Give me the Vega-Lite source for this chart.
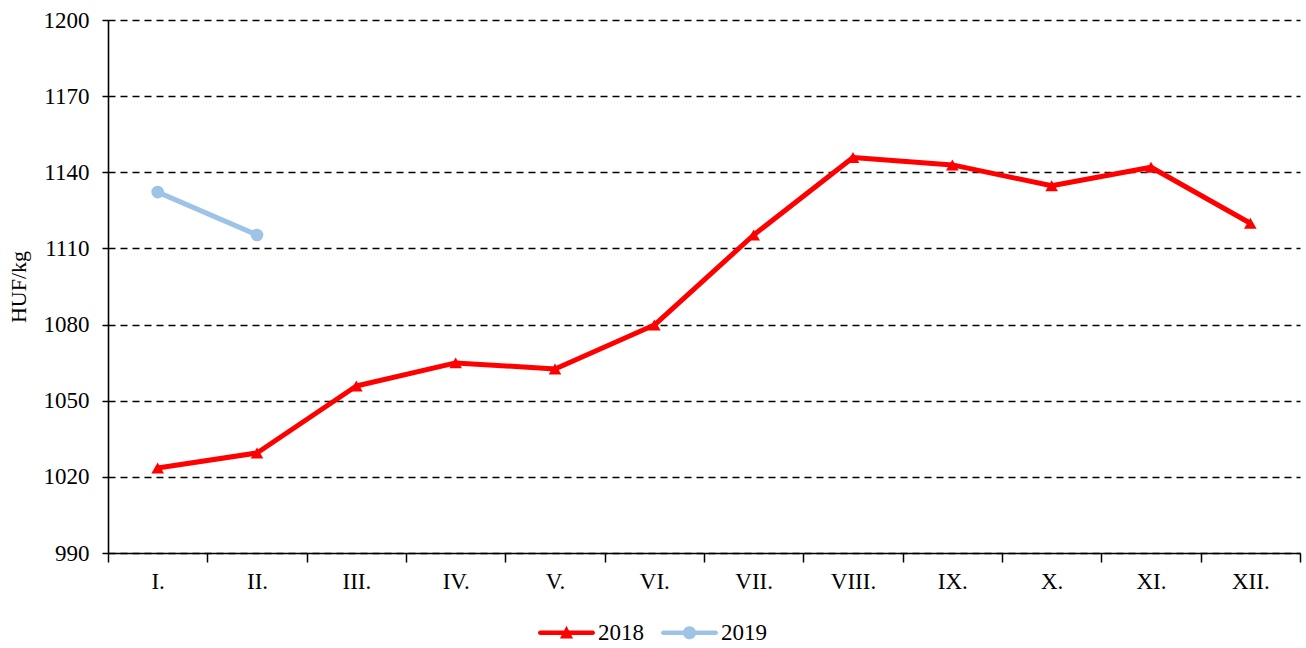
{
  "$schema": "https://vega.github.io/schema/vega-lite/v6.json",
  "width": 1192,
  "height": 533,
  "autosize": {"type": "none"},
  "padding": {"left": 108, "top": 20, "right": 6, "bottom": 95},
  "background": "white",
  "config": {
    "font": "Liberation Serif",
    "view": {"stroke": null},
    "axis": {
      "domainColor": "black",
      "domainWidth": 1.6,
      "tickColor": "black",
      "tickWidth": 1.5,
      "labelFont": "Liberation Serif",
      "labelFontSize": 23,
      "labelColor": "black",
      "titleFont": "Liberation Serif",
      "titleFontSize": 22,
      "titleFontWeight": "normal",
      "titleColor": "black"
    },
    "legend": {
      "orient": "none",
      "legendX": 430,
      "legendY": 584,
      "direction": "horizontal",
      "title": null,
      "labelFont": "Liberation Serif",
      "labelFontSize": 23,
      "labelColor": "black",
      "symbolSize": 3249,
      "symbolStrokeWidth": 0,
      "labelOffset": 3,
      "columnPadding": 16
    }
  },
  "data": {
    "values": [
      {"month": "I.", "series": "2018", "value": 1023.5},
      {"month": "II.", "series": "2018", "value": 1029.4},
      {"month": "III.", "series": "2018", "value": 1055.8},
      {"month": "IV.", "series": "2018", "value": 1064.9},
      {"month": "V.", "series": "2018", "value": 1062.5},
      {"month": "VI.", "series": "2018", "value": 1079.8},
      {"month": "VII.", "series": "2018", "value": 1115.3},
      {"month": "VIII.", "series": "2018", "value": 1145.8},
      {"month": "IX.", "series": "2018", "value": 1142.9},
      {"month": "X.", "series": "2018", "value": 1134.7},
      {"month": "XI.", "series": "2018", "value": 1142.0},
      {"month": "XII.", "series": "2018", "value": 1119.9},
      {"month": "I.", "series": "2019", "value": 1132.2},
      {"month": "II.", "series": "2019", "value": 1115.3}
    ]
  },
  "encoding": {
    "x": {
      "field": "month",
      "type": "ordinal",
      "sort": ["I.", "II.", "III.", "IV.", "V.", "VI.", "VII.", "VIII.", "IX.", "X.", "XI.", "XII."],
      "scale": {"type": "band", "paddingInner": 0, "paddingOuter": 0},
      "axis": {
        "title": null,
        "labelAngle": 0,
        "tickBand": "extent",
        "tickSize": 9,
        "labelPadding": 8,
        "grid": false
      }
    },
    "y": {
      "field": "value",
      "type": "quantitative",
      "scale": {"domain": [990, 1200], "nice": false, "zero": false},
      "axis": {
        "title": "HUF/kg",
        "format": "d",
        "values": [990, 1020, 1050, 1080, 1110, 1140, 1170, 1200],
        "tickSize": 6,
        "labelPadding": 13,
        "titlePadding": 13,
        "grid": true,
        "gridColor": "black",
        "gridDash": [7, 5],
        "gridWidth": 1.4
      }
    }
  },
  "layer": [
    {
      "transform": [{"filter": "datum.series === '2018'"}],
      "mark": {"type": "line", "color": "#FF0000", "strokeWidth": 5, "strokeJoin": "round"}
    },
    {
      "transform": [{"filter": "datum.series === '2018'"}],
      "mark": {"type": "point", "shape": "triangle-up", "filled": true, "opacity": 1, "color": "#FF0000", "size": 160}
    },
    {
      "transform": [{"filter": "datum.series === '2019'"}],
      "mark": {"type": "line", "color": "#9DC3E6", "strokeWidth": 5, "strokeCap": "round"}
    },
    {
      "transform": [{"filter": "datum.series === '2019'"}],
      "mark": {"type": "point", "shape": "circle", "filled": true, "opacity": 1, "color": "#9DC3E6", "size": 160}
    },
    {
      "transform": [{"filter": "datum.value < 0"}],
      "mark": {"type": "point", "filled": true, "opacity": 1},
      "encoding": {
        "color": {
          "field": "series",
          "type": "nominal",
          "scale": {"domain": ["2018", "2019"], "range": ["#FF0000", "#9DC3E6"]},
          "legend": {"labelFont": "Liberation Serif", "labelFontSize": 23, "labelColor": "black"}
        },
        "shape": {
          "field": "series",
          "type": "nominal",
          "scale": {
            "domain": ["2018", "2019"],
            "range": [
              "M-0.92,-0.08H0.92A0.08,0.08 0 0,1 0.92,0.08H-0.92A0.08,0.08 0 0,1 -0.92,-0.08Z M0,-0.25L0.23,0.2L-0.23,0.2Z",
              "M-0.92,-0.08H0.92A0.08,0.08 0 0,1 0.92,0.08H-0.92A0.08,0.08 0 0,1 -0.92,-0.08Z M0.23,0A0.23,0.23 0 1,1 -0.23,0A0.23,0.23 0 1,1 0.23,0Z"
            ]
          },
          "legend": {"labelFont": "Liberation Serif", "labelFontSize": 23, "labelColor": "black"}
        }
      }
    }
  ]
}
